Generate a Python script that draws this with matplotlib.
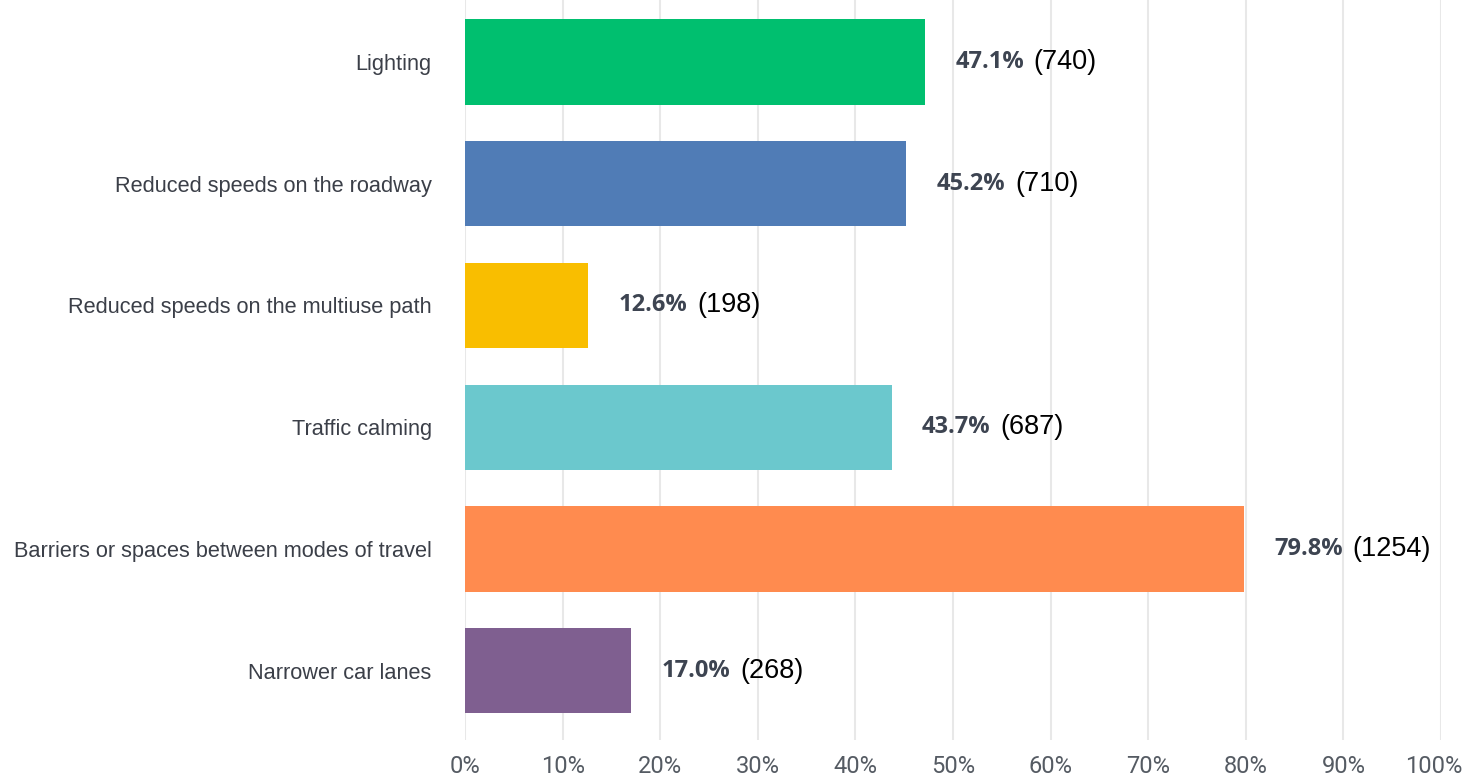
import matplotlib.pyplot as plt
import matplotlib.transforms as mtransforms

categories = ['Lighting', 'Reduced speeds on the roadway', 'Reduced speeds on the multiuse path',
              'Traffic calming', 'Barriers or spaces between modes of travel', 'Narrower car lanes']
percents = [47.1, 45.2, 12.6, 43.7, 79.8, 17.0]
counts = [740, 710, 198, 687, 1254, 268]
colors = ['#00bf6f', '#507cb6', '#f9be00', '#6bc8cd', '#ff8b4f', '#7f5f90']
xticks = [0, 10, 20, 30, 40, 50, 60, 70, 80, 90, 100]

fig = plt.figure(figsize=(14.66, 7.82), dpi=100)
ax = fig.add_axes([0.3172, 0.0537, 0.6658, 0.9463])

y = list(range(len(categories)))
ax.barh(y, percents, height=0.7, color=colors, zorder=3)

# value labels: bold percent, then count in parentheses
for yi, p, c in zip(y, percents, counts):
    t = ax.annotate('%.1f%%' % p, xy=(p, yi), xytext=(22, 0), textcoords='offset points',
                    va='center', ha='left', fontsize=17, fontweight='bold',
                    family='Open Sans', color='#3d4451')
    ax.annotate('(%d)' % c, xy=(1, 0.5), xycoords=t, xytext=(7, 0),
                textcoords='offset points', va='center', ha='left',
                fontsize=19.5, family='Liberation Sans', color='black')

ax.set_xlim(0, 100)
ax.set_ylim(5.57, -0.51)
ax.set_xticks(xticks)
ax.set_xticklabels(['%d%%' % v for v in xticks], fontsize=17, family='Roboto', color='#555b63')
ax.set_yticks(y)
ax.set_yticklabels(categories, fontsize=15.7, family='Liberation Sans', color='#3b3f48')
ax.tick_params(axis='both', length=0)
ax.tick_params(axis='y', pad=24)
ax.tick_params(axis='x', pad=11)

# nudge the 100% label left so it stays inside the figure
last = ax.get_xticklabels()[-1]
last.set_transform(last.get_transform() + mtransforms.ScaledTranslation(-0.07, 0, fig.dpi_scale_trans))

ax.grid(axis='x', color='#e8e8e8', linewidth=1.5, zorder=0)
for s in ['top', 'right', 'bottom', 'left']:
    ax.spines[s].set_visible(False)

fig.savefig('out.png', dpi=100)
